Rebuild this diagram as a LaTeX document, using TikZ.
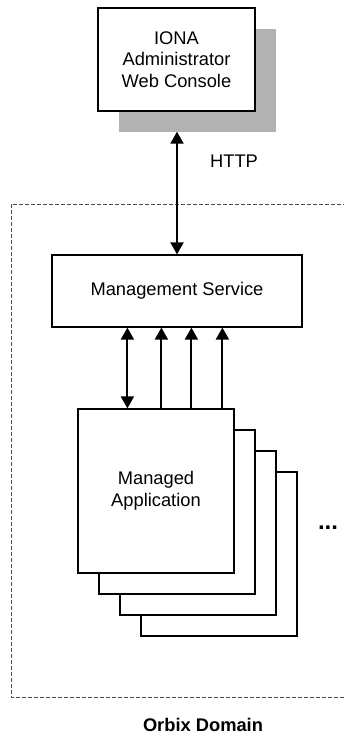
\documentclass[tikz,border=0pt]{standalone}
\usepackage{fontspec}
\setmainfont{Liberation Sans}
\usetikzlibrary{positioning,arrows.meta}

\begin{document}
\begin{tikzpicture}[
  x=1pt,y=-1pt,
  every node/.style={font=\fontsize{18.3}{21.5}\selectfont},
  box/.style={draw,line width=1.2pt,fill=white,align=center,inner sep=0pt},
  link/.style={line width=2pt,{Triangle[width=13pt,length=12pt]}-{Triangle[width=13pt,length=12pt]}},
  uplink/.style={line width=2pt,-{Triangle[width=13pt,length=12pt]}},
  ]
  \useasboundingbox (0,0) rectangle (344,736);

  % domain
  \draw[dashed,gray!60!black,line width=1pt,dash pattern=on 4pt off 2pt] (11,204) rectangle (352,697);
  \node[font=\fontsize{18.3}{21.5}\selectfont\bfseries] (domain) at (203,725) {Orbix Domain};

  % console with shadow
  \node[fill=black!30,minimum width=157,minimum height=103] (shadow) at (197.5,80) {};
  \node[box,minimum width=157,minimum height=103] (console) at (176.5,59.5)
    {IONA\\Administrator\\Web Console};

  \node[box,minimum width=250,minimum height=72] (ms) at (177,291) {Management Service};

  % stacked applications
  \foreach \i/\x/\y in {3/219/554,2/198/533,1/177/512}
    \node[box,minimum width=156,minimum height=164] (app\i) at (\x,\y) {};
  \node[box,minimum width=156,minimum height=164] (app) at (156,491) {Managed\\Application};
  \node[font=\fontsize{24}{28}\selectfont\bfseries] (dots) at (328,528) {...};

  \node (http) at (234,161) {HTTP};

  \draw[link] (ms.north |- shadow.south) -- (ms.north);
  \path ([xshift=50pt]app.north west) coordinate (p0)
        ([xshift=84pt]app.north west) coordinate (p1)
        ([xshift=114pt]app.north west) coordinate (p2)
        ([xshift=145pt]app.north west) coordinate (p3);
  \draw[link] (p0) -- (p0 |- ms.south);
  \foreach \i in {1,2,3}
    \draw[uplink] (p\i) -- (p\i |- ms.south);

\end{tikzpicture}
\end{document}
